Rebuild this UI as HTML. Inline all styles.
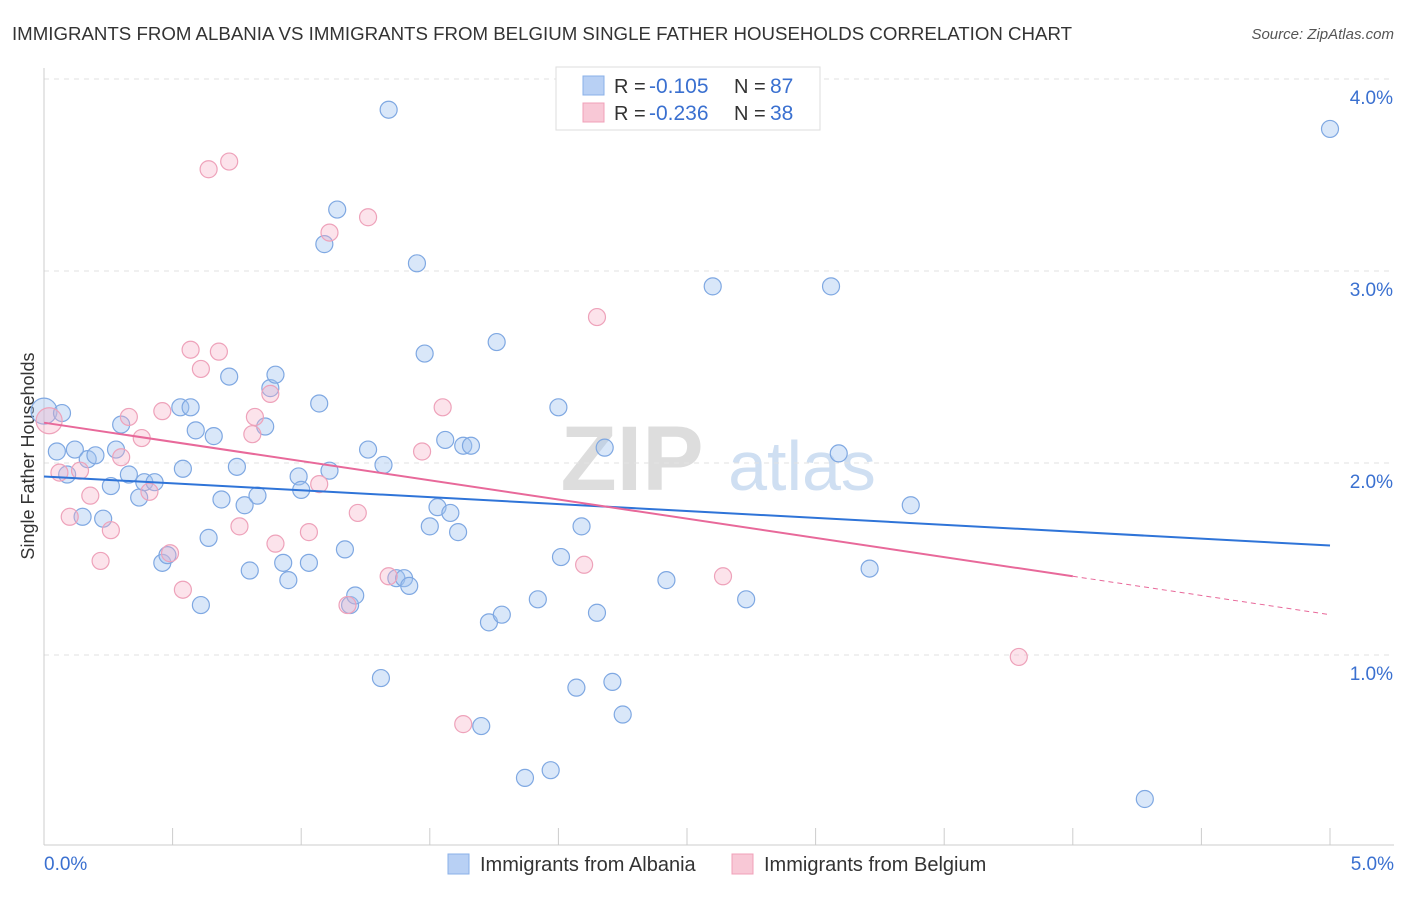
<!DOCTYPE html>
<html><head><meta charset="utf-8"><style>
body{margin:0;background:#fff;font-family:"Liberation Sans",sans-serif;}
svg text{font-family:"Liberation Sans",sans-serif;}
</style></head><body>
<svg id="chart" width="1406" height="892" xmlns="http://www.w3.org/2000/svg">
<text x="12" y="40" font-size="18" fill="#333" textLength="1060" lengthAdjust="spacingAndGlyphs">IMMIGRANTS FROM ALBANIA VS IMMIGRANTS FROM BELGIUM SINGLE FATHER HOUSEHOLDS CORRELATION CHART</text>
<text x="1394" y="39" font-size="15" fill="#555" font-style="italic" text-anchor="end">Source: ZipAtlas.com</text>
<text transform="translate(34,456) rotate(-90)" font-size="18" fill="#333" text-anchor="middle">Single Father Households</text>
<g>
<text x="632" y="490" font-size="92" fill="#ddd" text-anchor="middle" font-family="Liberation Serif" font-weight="bold">ZIP</text>
<text x="802" y="490" font-size="70" fill="#cfdff2" text-anchor="middle">atlas</text>
</g>
<g id="grid"></g><g id="axes"></g><g id="marks"></g><g id="lines"></g>
<g>
<rect x="556" y="67" width="264" height="63" fill="#fff" stroke="#ddd"/>
<rect x="583" y="76" width="21" height="19" fill="#b8d0f4" stroke="#8ab0e8"/>
<rect x="583" y="103" width="21" height="19" fill="#f8c8d6" stroke="#f0a0b8"/>
<text x="614" y="93" font-size="20" fill="#333">R =</text>
<text x="649" y="93" font-size="21" fill="#3a70d0">-0.105</text>
<text x="734" y="93" font-size="20" fill="#333">N =</text>
<text x="770" y="93" font-size="21" fill="#3a70d0">87</text>
<text x="614" y="120" font-size="20" fill="#333">R =</text>
<text x="649" y="120" font-size="21" fill="#3a70d0">-0.236</text>
<text x="734" y="120" font-size="20" fill="#333">N =</text>
<text x="770" y="120" font-size="21" fill="#3a70d0">38</text>
</g>
<g>
<rect x="448" y="854" width="21" height="20" fill="#b8d0f4" stroke="#8ab0e8"/>
<text x="480" y="871" font-size="20" fill="#333">Immigrants from Albania</text>
<rect x="732" y="854" width="21" height="20" fill="#f8c8d6" stroke="#f0a0b8"/>
<text x="764" y="871" font-size="20" fill="#333">Immigrants from Belgium</text>
</g>
</svg>
<script>
const blueX=[0.00,0.07,0.05,0.12,0.09,0.17,0.20,0.26,0.15,0.23,0.30,0.28,0.33,0.37,0.39,0.43,0.46,0.48,0.54,0.53,0.57,0.59,0.61,0.64,0.66,0.69,0.72,0.75,0.78,0.80,0.83,0.86,0.88,0.90,0.93,0.95,0.99,1.00,1.03,1.07,1.09,1.14,1.11,1.17,1.19,1.21,1.26,1.31,1.32,1.34,1.37,1.40,1.42,1.45,1.48,1.50,1.53,1.56,1.58,1.61,1.63,1.66,1.70,1.73,1.76,1.78,1.87,1.92,1.97,2.00,2.01,2.07,2.09,2.15,2.18,2.21,2.25,2.42,2.60,2.73,3.06,3.09,3.21,3.37,4.28,5.00];
const blueY=[2.27,2.26,2.06,2.07,1.94,2.02,2.04,1.88,1.72,1.71,2.20,2.07,1.94,1.82,1.90,1.90,1.48,1.52,1.97,2.29,2.29,2.17,1.26,1.61,2.14,1.81,2.45,1.98,1.78,1.44,1.83,2.19,2.39,2.46,1.48,1.39,1.93,1.86,1.48,2.31,3.14,3.32,1.96,1.55,1.26,1.31,2.07,0.88,1.99,3.84,1.40,1.40,1.36,3.04,2.57,1.67,1.77,2.12,1.74,1.64,2.09,2.09,0.63,1.17,2.63,1.21,0.36,1.29,0.40,2.29,1.51,0.83,1.67,1.22,2.08,0.86,0.69,1.39,2.92,1.29,2.92,2.05,1.45,1.78,0.25,3.74];
const pinkX=[0.02,0.06,0.10,0.14,0.18,0.22,0.26,0.30,0.33,0.38,0.41,0.46,0.49,0.54,0.57,0.61,0.64,0.68,0.72,0.76,0.81,0.82,0.88,0.90,1.03,1.07,1.11,1.18,1.22,1.26,1.34,1.47,1.55,1.63,2.10,2.15,2.64,3.79];
const pinkY=[2.22,1.95,1.72,1.96,1.83,1.49,1.65,2.03,2.24,2.13,1.85,2.27,1.53,1.34,2.59,2.49,3.53,2.58,3.57,1.67,2.15,2.24,2.36,1.58,1.64,1.89,3.20,1.26,1.74,3.28,1.41,2.06,2.29,0.64,1.47,2.76,1.41,0.99];
const yTicks=[1,2,3,4];
const yTickLabels=["1.0%","2.0%","3.0%","4.0%"];
const xTickLabels=["0.0%","5.0%"];
const blueTrend=[1.93,1.57];
const pinkTrend=[2.21,1.21];
const pinkSolidEnd=4.0;
const NS="http://www.w3.org/2000/svg";
const sx=v=>44+v*257.2, sy=v=>847-v*192;
function mk(tag,attrs,parent){const e=document.createElementNS(NS,tag);for(const k in attrs)e.setAttribute(k,attrs[k]);parent.appendChild(e);return e;}
const grid=document.getElementById('grid'),axes=document.getElementById('axes'),marks=document.getElementById('marks'),lines=document.getElementById('lines');
yTicks.forEach((t,i)=>{
 const l=mk('line',{x1:44,x2:1394,y1:sy(t),y2:sy(t),stroke:'#e2e2e2','stroke-dasharray':'5,5'},grid);
 
 
 const tx=mk('text',{x:1393,y:sy(t)+25,'font-size':19,fill:'#3a70d0','text-anchor':'end'},grid);
 tx.textContent=yTickLabels[i];
 
 
});
const al=mk('line',{x1:44,x2:44,y1:68,y2:845,stroke:'#ccc'},axes);


const bl=mk('line',{x1:44,x2:1394,y1:845,y2:845,stroke:'#ccc'},axes);


for(let i=0;i<=10;i++){
 const t=mk('line',{x1:sx(i*0.5),x2:sx(i*0.5),y1:828,y2:845,stroke:'#ccc'},axes);
 
 
}
[[0,'start',44],[5,'end',1394]].forEach((d,i)=>{
 const t=mk('text',{x:d[2],y:870,'font-size':19,fill:'#3a70d0','text-anchor':d[1]},axes);
 t.textContent=xTickLabels[i];
 
 
});
function dots(X,Y,fill,stroke,name){
 X.forEach((x,i)=>{
  const big=(i===0);
  const c=mk('circle',{cx:sx(x),cy:sy(Y[i]),r:big?13:8.5,fill:fill,stroke:stroke,'stroke-width':1.2},marks);
  
  
 });
}
dots(blueX,blueY,'rgba(160,195,240,0.4)','#7fa8e2','albania-point');
dots(pinkX,pinkY,'rgba(245,175,198,0.35)','#eea2ba','belgium-point');
const bt=mk('line',{x1:sx(0),y1:sy(blueTrend[0]),x2:sx(5),y2:sy(blueTrend[1]),stroke:'#2f74d8','stroke-width':2},lines);


const pAt=x=>pinkTrend[0]+(pinkTrend[1]-pinkTrend[0])*x/5;
const pt=mk('line',{x1:sx(0),y1:sy(pAt(0)),x2:sx(pinkSolidEnd),y2:sy(pAt(pinkSolidEnd)),stroke:'#e8699a','stroke-width':2},lines);


const pd=mk('line',{x1:sx(pinkSolidEnd),y1:sy(pAt(pinkSolidEnd)),x2:sx(5),y2:sy(pAt(5)),stroke:'#e8699a','stroke-width':1,'stroke-dasharray':'5,4'},lines);


</script>
</body></html>
